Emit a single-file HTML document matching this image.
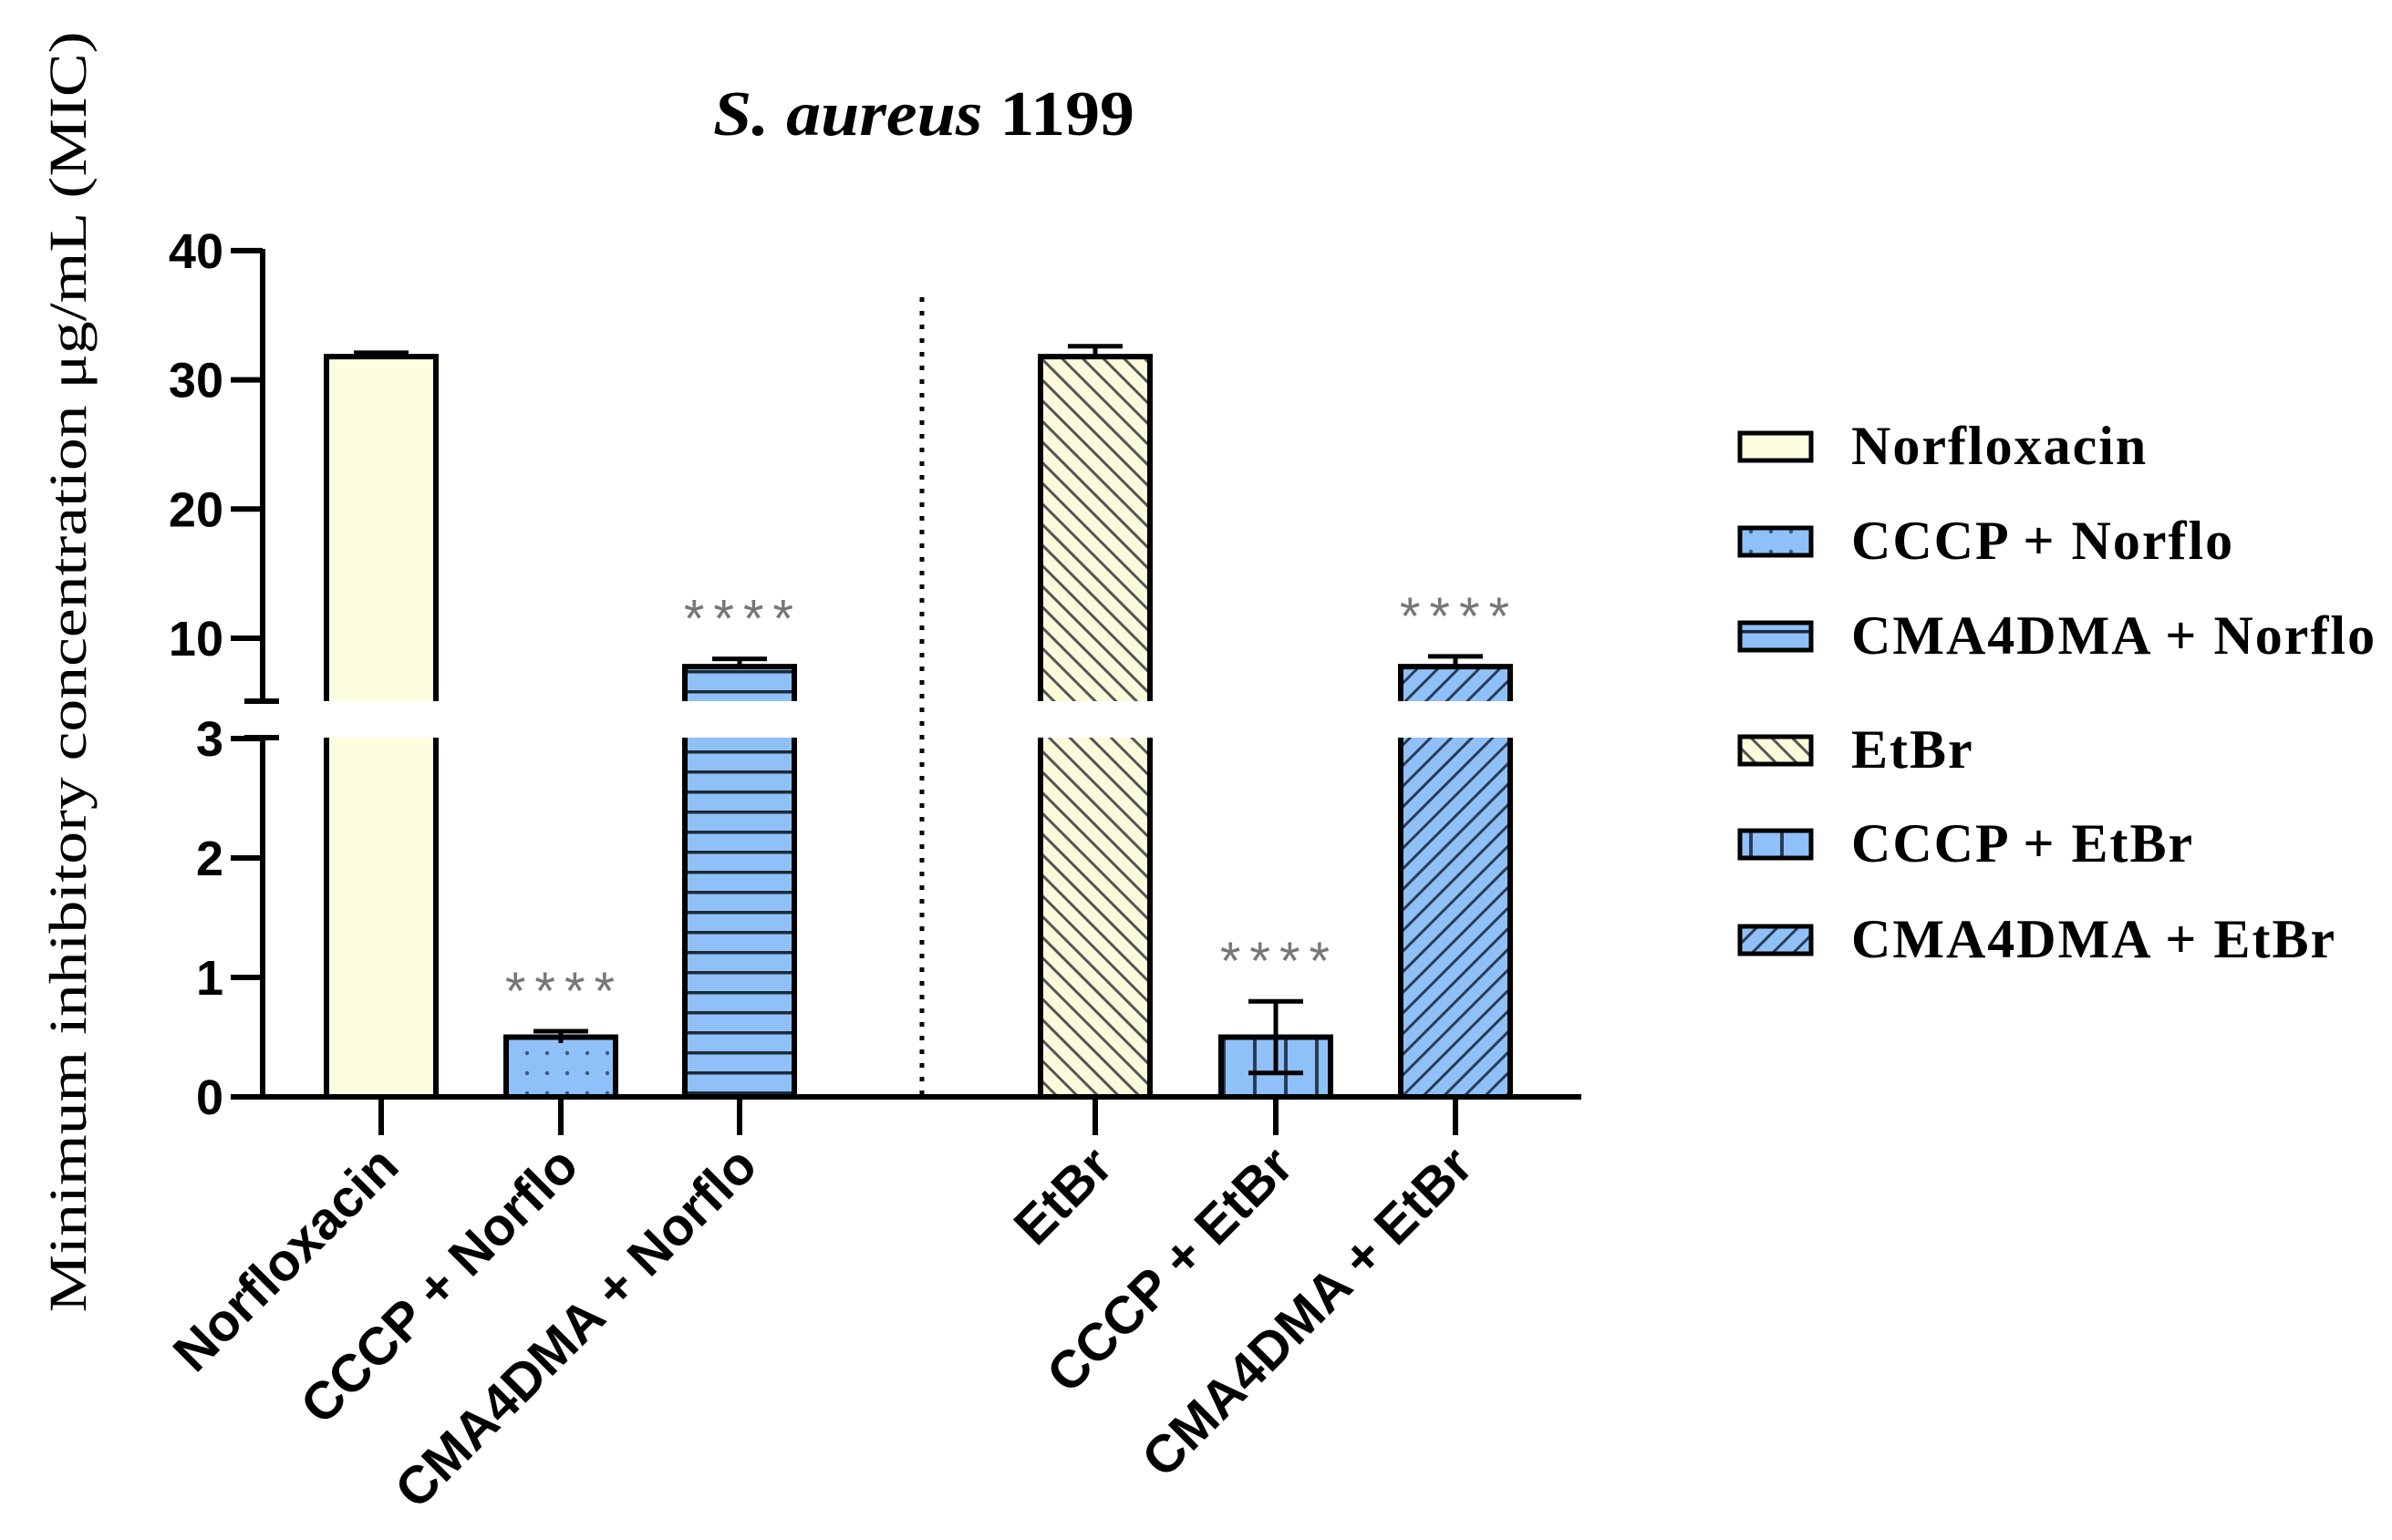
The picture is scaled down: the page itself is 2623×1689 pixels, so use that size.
<!DOCTYPE html>
<html><head><meta charset="utf-8"><style>
html,body{margin:0;padding:0;background:#fff;}
svg{display:block;}
</style></head><body>
<svg id="chart" width="2623" height="1689" viewBox="0 0 2623 1689" xmlns="http://www.w3.org/2000/svg">
<defs>
 <pattern id="pDots" width="22" height="22" patternUnits="userSpaceOnUse"><rect width="22" height="22" fill="#90c0f8"/><circle cx="6" cy="11" r="2.2" fill="#3a5a80"/></pattern>
 <pattern id="pHoriz" width="22" height="22" patternUnits="userSpaceOnUse"><rect width="22" height="22" fill="#90c0f8"/><rect y="9" width="22" height="3.5" fill="#1b2a3a"/></pattern>
 <pattern id="pBack" width="16" height="16" patternUnits="userSpaceOnUse" patternTransform="rotate(-45)"><rect width="16" height="16" fill="#fbfbdc"/><rect x="0" width="3" height="16" fill="#555"/></pattern>
 <pattern id="pVert" width="34" height="34" patternUnits="userSpaceOnUse"><rect width="34" height="34" fill="#90c0f8"/><rect x="14" width="4" height="34" fill="#2a3c55"/></pattern>
 <pattern id="pFwd" width="16" height="16" patternUnits="userSpaceOnUse" patternTransform="rotate(45)"><rect width="16" height="16" fill="#90c0f8"/><rect x="0" width="3" height="16" fill="#2a3c55"/></pattern>
</defs>
<g id="plot"></g>
</svg>
<script>
const categories = ["Norfloxacin","CCCP + Norflo","CMA4DMA + Norflo","EtBr","CCCP + EtBr","CMA4DMA + EtBr"];
const means = [31.8, 0.5, 7.8, 31.8, 0.5, 7.8];
const errs = [0.3, 0.05, 0.6, 0.8, 0.3, 0.8];
const stars = ["", "****", "****", "", "****", "****"];
const upperTicks = [10, 20, 30, 40];
const lowerTicks = [0, 1, 2, 3];
const fills = ["#fdfde0","url(#pDots)","url(#pHoriz)","url(#pBack)","url(#pVert)","url(#pFwd)"];
const legendSwatch = ["#fdfde0","url(#pDots)","url(#pHoriz)","url(#pBack)","url(#pVert)","url(#pFwd)"];

const NS = "http://www.w3.org/2000/svg";
const g = document.getElementById('plot');
function mk(tag, attrs, parent){const e=document.createElementNS(NS,tag);for(const k in attrs)e.setAttribute(k,attrs[k]);(parent||g).appendChild(e);return e;}

const centers = [418, 615, 811, 1201, 1399, 1596];
function xPos(i){return centers[i];}
function yUpper(v){return 700 - (v-10)*14.17;}
function yLower(v){return 1203 - v*131;}
const upperMinY = 769, lowerMaxY = 809, lowerMax = 3;

let t = mk('text',{x:1013,y:148,'text-anchor':'middle','font-family':'Liberation Serif, serif','font-weight':'bold','font-size':70,textLength:462,lengthAdjust:'spacingAndGlyphs'});


t.innerHTML = '<tspan font-style="italic">S. aureus</tspan> 1199';

let yt = mk('text',{x:0,y:0,transform:'translate(94,737) rotate(-90)','text-anchor':'middle','font-family':'Liberation Serif, serif','font-size':58,textLength:1405,lengthAdjust:'spacingAndGlyphs'});


yt.textContent = 'Minimum inhibitory concentration μg/mL (MIC)';

const bw = 120;
for(let i=0;i<means.length;i++){
  const v = means[i], cx = xPos(i), x0 = cx-bw/2;
  const bg = mk('g',{});
  
  
  if(v <= lowerMax){
    const y = yLower(v);
    mk('rect',{x:x0,y:y,width:bw,height:1203-y,fill:fills[i],stroke:'#000','stroke-width':6},bg);
  } else {
    mk('rect',{x:x0,y:lowerMaxY,width:bw,height:1203-lowerMaxY,fill:fills[i]},bg);
    mk('path',{d:`M${x0} ${lowerMaxY} V1203 M${x0+bw} ${lowerMaxY} V1203`,stroke:'#000','stroke-width':6,fill:'none'},bg);
    const y = yUpper(v);
    mk('rect',{x:x0,y:y,width:bw,height:upperMinY-y,fill:fills[i]},bg);
    mk('path',{d:`M${x0} ${upperMinY} V${y} H${x0+bw} V${upperMinY}`,stroke:'#000','stroke-width':6,fill:'none'},bg);
  }
  const yf = v<=lowerMax ? yLower : yUpper;
  const hi = yf(v+errs[i]), lo = yf(Math.max(v-errs[i],0)), ym = yf(v);
  const eb = mk('path',{d:`M${cx} ${hi} V${v<=lowerMax?lo:ym} M${cx-30} ${hi} H${cx+30}` + (v<=lowerMax && errs[i]>0.1 ? ` M${cx-30} ${lo} H${cx+30}`:''),stroke:'#000','stroke-width':5,fill:'none'},bg);
  
  
  if(stars[i]){
    const st = mk('text',{x:cx+4,y:hi-24,'text-anchor':'middle','font-family':'Liberation Sans, sans-serif','font-size':58,fill:'#777','letter-spacing':10});
    
    
    st.textContent = stars[i];
  }
}

const ax = mk('path',{d:`M288 273 V${upperMinY} M288 ${lowerMaxY} V1206 M253 1203 H1734 M268 ${upperMinY} H306 M268 ${lowerMaxY} H306`,stroke:'#000','stroke-width':6,fill:'none'});


upperTicks.forEach(v=>{
  mk('line',{x1:253,x2:288,y1:yUpper(v),y2:yUpper(v),stroke:'#000','stroke-width':6});
  const l = mk('text',{x:245,y:yUpper(v)+19,'text-anchor':'end','font-family':'Liberation Sans, sans-serif','font-weight':'bold','font-size':54});
  
  
  l.textContent = v;
});
lowerTicks.forEach(v=>{
  mk('line',{x1:253,x2:288,y1:yLower(v),y2:yLower(v),stroke:'#000','stroke-width':6});
  const l = mk('text',{x:245,y:yLower(v)+19,'text-anchor':'end','font-family':'Liberation Sans, sans-serif','font-weight':'bold','font-size':54});
  
  
  l.textContent = v;
});
categories.forEach((c,i)=>{
  const cx = xPos(i);
  mk('line',{x1:cx,x2:cx,y1:1203,y2:1245,stroke:'#000','stroke-width':6});
  const l = mk('text',{x:0,y:0,transform:`translate(${cx+22},1282) rotate(-45)`,'text-anchor':'end','font-family':'Liberation Sans, sans-serif','font-weight':'bold','font-size':58});
  
  
  l.textContent = c;
});
const dv = mk('line',{x1:1011,x2:1011,y1:326,y2:1200,stroke:'#000','stroke-width':5,'stroke-dasharray':'5 10'});



const legY = [489, 593, 697, 822, 925, 1030];
categories.forEach((c,i)=>{
  const lg = mk('g',{});
  
  
  mk('rect',{x:1908,y:legY[i]-14,width:78,height:30,fill:legendSwatch[i],stroke:'#000','stroke-width':5},lg);
  const tx = mk('text',{x:2030,y:legY[i]+20,'font-family':'Liberation Serif, serif','font-weight':'bold','font-size':60,'letter-spacing':2},lg);
  tx.textContent = c;
});
</script>
</body></html>
